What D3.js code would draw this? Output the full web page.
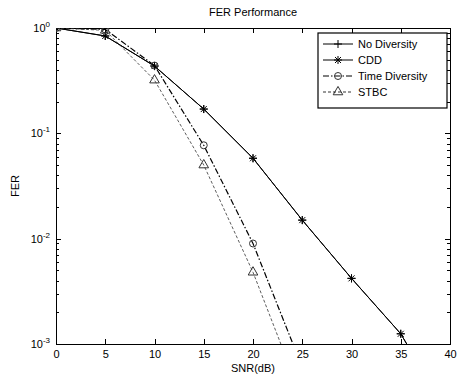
<!DOCTYPE html>
<html lang="en">
<head>
<meta charset="utf-8">
<title>FER Performance</title>
<script src="https://d3js.org/d3.v7.min.js"></script>
<style>
    html, body { margin: 0; padding: 0; background: #fff; }
    text { font-family: "Liberation Sans", Arial, sans-serif; font-size: 11px; fill: #000; }
    .axis path, .axis line { stroke: #000; shape-rendering: crispEdges; }
    path.line { fill: none; }
</style>
</head>
<body>
<script>
// data
var snr = [0, 5, 10, 15, 20, 25, 30, 35, 40];
var noDiversity = [1.0, 0.84, 0.435, 0.17, 0.058, 0.015, 0.0042, 0.00125, 0.0002];
var cdd = [1.0, 0.84, 0.435, 0.17, 0.058, 0.015, 0.0042, 0.00125, 0.0002];
var timeDiversity = [1.0, 0.97, 0.44, 0.077, 0.009, 0.0006];
var stbc = [1.0, 0.95, 0.32, 0.05, 0.0048, 0.0003];
var seriesNames = ["No Diversity", "CDD", "Time Diversity", "STBC"];
var xTicks = [0, 5, 10, 15, 20, 25, 30, 35, 40];
var yTicks = [1e-3, 1e-2, 1e-1, 1];

var w = 457, h = 377;
var padL = 56, padR = 450, padT = 28, padB = 344;

var svg = d3.select("body").append("svg").attr("width", w).attr("height", h);

var xScale = d3.scaleLinear().domain([0, 40]).range([padL, padR]);
var yScale = d3.scaleLog().domain([1e-3, 1]).range([padB, padT]);

svg.append("clipPath").attr("id", "clip")
    .append("rect").attr("x", padL).attr("y", padT)
    .attr("width", padR - padL).attr("height", padB - padT);

// minor ticks for log axis
var minor = [];
[1e-3, 1e-2, 1e-1].forEach(function(d) {
    for (var k = 2; k <= 9; k++) minor.push(d * k);
});

// axes
var xAxis = d3.axisBottom(xScale).tickValues(xTicks).tickSize(-5).tickPadding(6).tickFormat(d3.format("d"));
svg.append("g").attr("class", "axis").attr("transform", "translate(0," + padB + ")").call(xAxis);
svg.append("g").attr("class", "axis").attr("transform", "translate(0," + padT + ")")
    .call(d3.axisTop(xScale).tickValues(xTicks).tickSize(-5).tickFormat(""));

svg.append("g").attr("class", "axis").attr("transform", "translate(" + padL + ",0)")
    .call(d3.axisLeft(yScale).tickValues(yTicks).tickSize(-5).tickFormat(""));
svg.append("g").attr("class", "axis").attr("transform", "translate(" + padL + ",0)")
    .call(d3.axisLeft(yScale).tickValues(minor).tickSize(-3).tickFormat(""));
svg.append("g").attr("class", "axis").attr("transform", "translate(" + padR + ",0)")
    .call(d3.axisRight(yScale).tickValues(yTicks).tickSize(-5).tickFormat(""));
svg.append("g").attr("class", "axis").attr("transform", "translate(" + padR + ",0)")
    .call(d3.axisRight(yScale).tickValues(minor).tickSize(-3).tickFormat(""));
svg.selectAll(".axis path.domain").attr("stroke-width", 1.2);

// y tick labels as 10^n
yTicks.forEach(function(d) {
    var t = svg.append("text").attr("x", padL - 6).attr("y", yScale(d) + 4).attr("text-anchor", "end");
    t.append("tspan").text("10");
    t.append("tspan").attr("dy", -5).style("font-size", "8px").text(Math.round(Math.log10(d)));
});

// lines
var series = [
    { name: seriesNames[0], values: noDiversity, dash: null, width: 1, marker: "plus" },
    { name: seriesNames[1], values: cdd, dash: null, width: 1, marker: "star" },
    { name: seriesNames[2], values: timeDiversity, dash: "6,2,1.5,2", width: 1.2, marker: "circle" },
    { name: seriesNames[3], values: stbc, dash: "3,2", width: 0.8, marker: "triangle" }
];

var line = d3.line()
    .x(function(d) { return xScale(d.x); })
    .y(function(d) { return yScale(d.y); });

function drawMarker(g, type, x, y) {
    if (type === "plus") {
        g.append("path").attr("d", "M" + (x - 4) + "," + y + "H" + (x + 4) + "M" + x + "," + (y - 4) + "V" + (y + 4))
            .attr("stroke", "#000").attr("fill", "none");
    } else if (type === "star") {
        g.append("path").attr("d", "M" + (x - 4) + "," + y + "H" + (x + 4) + "M" + x + "," + (y - 4) + "V" + (y + 4) +
            "M" + (x - 3) + "," + (y - 3) + "L" + (x + 3) + "," + (y + 3) + "M" + (x - 3) + "," + (y + 3) + "L" + (x + 3) + "," + (y - 3))
            .attr("stroke", "#000").attr("fill", "none");
    } else if (type === "circle") {
        g.append("circle").attr("cx", x).attr("cy", y).attr("r", 3.5)
            .attr("stroke", "#333").attr("fill", "none");
    } else if (type === "triangle") {
        g.append("path").attr("d", d3.symbol().type(d3.symbolTriangle).size(40)())
            .attr("transform", "translate(" + x + "," + y + ")").attr("stroke", "#333").attr("fill", "none");
    }
}

var plot = svg.append("g").attr("clip-path", "url(#clip)");
series.forEach(function(s) {
    var pts = s.values.map(function(v, i) { return { x: snr[i], y: v }; });
    plot.append("path").attr("class", "line").datum(pts).attr("d", line)
        .attr("stroke", s.marker === "triangle" ? "#333" : "#000")
        .attr("stroke-width", s.width)
        .attr("stroke-dasharray", s.dash);
    pts.forEach(function(p) {
        if (p.y >= 1e-3 && p.x <= 40) drawMarker(plot, s.marker, xScale(p.x), yScale(p.y));
    });
});

// legend
var lx = 318, ly = 33, lw = 129, lh = 75;
var leg = svg.append("g");
leg.append("rect").attr("x", lx).attr("y", ly).attr("width", lw).attr("height", lh)
    .attr("fill", "#fff").attr("stroke", "#000").attr("stroke-width", 1.2);
series.forEach(function(s, i) {
    var y = ly + 11 + i * 16;
    leg.append("line").attr("x1", lx + 5).attr("x2", lx + 35).attr("y1", y).attr("y2", y)
        .attr("stroke", "#000").attr("stroke-width", s.width).attr("stroke-dasharray", s.dash);
    drawMarker(leg, s.marker, lx + 20, y);
    leg.append("text").attr("x", lx + 40).attr("y", y + 4).text(s.name);
});

// titles
svg.append("text").attr("x", (padL + padR) / 2).attr("y", 16).attr("text-anchor", "middle").text("FER Performance");
svg.append("text").attr("x", (padL + padR) / 2).attr("y", 372).attr("text-anchor", "middle").text("SNR(dB)");
svg.append("text").attr("transform", "translate(19," + ((padT + padB) / 2) + ") rotate(-90)")
    .attr("text-anchor", "middle").text("FER");
</script>
</body>
</html>
